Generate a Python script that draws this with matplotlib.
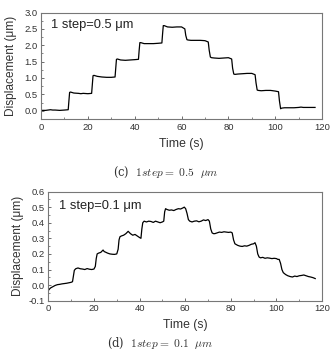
import numpy as np
import matplotlib.pyplot as plt
from matplotlib.ticker import MultipleLocator

# (c) 1 step = 0.5 um
t_c = [0, 2, 4, 5, 6, 8, 10, 11.6, 11.9, 12.2, 12.6, 14, 16, 17, 18, 20, 21.6, 21.9, 22.2, 22.6,
       24, 26, 28, 30, 31.6, 31.9, 32.2, 32.6, 34, 36, 38, 40, 41.6, 41.9, 42.2, 42.6, 44, 46, 48,
       50, 51.6, 51.9, 52.2, 52.6, 54, 56, 58, 60, 61.4, 61.8, 62.3, 62.8, 64, 66, 68, 70, 71.4,
       71.8, 72.3, 72.8, 74, 76, 78, 80, 81.4, 81.8, 82.3, 82.8, 84, 86, 88, 90, 91.4, 91.8, 92.3,
       92.8, 94, 96, 98, 100, 101.4, 101.8, 102.3, 102.8, 104, 106, 108, 110, 111, 112, 114, 116, 117]
d_c = [0.01, 0.01, 0.03, 0.02, 0.02, 0.01, 0.02, 0.03, 0.30, 0.56, 0.57, 0.54, 0.53, 0.52, 0.53, 0.52, 0.53, 0.80,
       1.07, 1.08, 1.05, 1.03, 1.02, 1.02, 1.03, 1.30, 1.57, 1.58, 1.55, 1.54, 1.55, 1.56, 1.57, 1.85,
       2.08, 2.08, 2.05, 2.05, 2.05, 2.06, 2.07, 2.35, 2.60, 2.60, 2.56, 2.55, 2.56, 2.56, 2.50, 2.30,
       2.17, 2.16, 2.15, 2.15, 2.15, 2.14, 2.10, 1.85, 1.64, 1.62, 1.61, 1.60, 1.61, 1.62, 1.58, 1.30,
       1.12, 1.11, 1.12, 1.13, 1.14, 1.14, 1.10, 0.85, 0.63, 0.62, 0.61, 0.62, 0.62, 0.60, 0.58, 0.30,
       0.06, 0.08, 0.09, 0.09, 0.09, 0.10, 0.11, 0.10, 0.10, 0.10, 0.10]

# (d) 1 step = 0.1 um
t_d = [0, 0.5, 1, 2, 3, 4, 5, 6, 7, 8, 9, 10,
       10.6, 11, 11.4, 12, 13, 14, 15, 16, 17, 18, 19, 20,
       20.6, 21, 21.4, 22, 23, 24, 24.5, 25, 26, 27, 28, 29, 30,
       30.6, 31, 31.4, 32, 33, 34, 35, 36, 37, 38, 39, 40,
       40.6, 41, 41.4, 42, 43, 44, 45, 46, 47, 48, 49, 50,
       50.6, 51, 51.4, 52, 53, 54, 55, 56, 57, 58, 59, 59.6,
       60.2, 60.8, 61.4, 62, 63, 64, 65, 66, 67, 68, 69, 70,
       70.6, 71.2, 71.8, 72.4, 73, 74, 75, 76, 77, 78, 79, 80,
       80.6, 81.2, 81.8, 82.4, 83, 84, 85, 86, 87, 88, 89, 90,
       90.6, 91.2, 91.8, 92.4, 93, 94, 95, 96, 97, 98, 99, 100,
       100.6, 101.2, 101.8, 102.4, 103, 104, 105, 106, 107, 108, 109, 110,
       111, 112, 113, 114, 115, 116, 117]
d_d = [-0.035, -0.025, -0.018, -0.010, -0.002, 0.003, 0.005, 0.008, 0.010, 0.012, 0.015, 0.018,
       0.022, 0.060, 0.095, 0.105, 0.110, 0.105, 0.103, 0.100, 0.106, 0.102, 0.100, 0.103,
       0.120, 0.170, 0.200, 0.205, 0.210, 0.225, 0.215, 0.212, 0.205, 0.200, 0.198, 0.197, 0.200,
       0.230, 0.290, 0.310, 0.315, 0.320, 0.330, 0.345, 0.330, 0.320, 0.325, 0.315, 0.305,
       0.300, 0.360, 0.400, 0.410, 0.405, 0.410, 0.408, 0.402, 0.410, 0.405, 0.400, 0.405,
       0.410, 0.470, 0.490, 0.485, 0.480, 0.482, 0.478, 0.485, 0.490, 0.488, 0.495, 0.500,
       0.490, 0.460, 0.420, 0.410, 0.405, 0.410, 0.412, 0.406, 0.410, 0.418, 0.414, 0.420,
       0.410, 0.360, 0.335, 0.330, 0.330, 0.335, 0.340, 0.338, 0.342, 0.340, 0.338, 0.340,
       0.335, 0.290, 0.265, 0.260, 0.255, 0.250, 0.248, 0.252, 0.250, 0.255, 0.262, 0.265,
       0.272, 0.250, 0.200, 0.180, 0.175, 0.178, 0.172, 0.175, 0.173, 0.170, 0.172, 0.170,
       0.165, 0.165, 0.140, 0.100, 0.080, 0.068, 0.060, 0.055, 0.052, 0.058, 0.055, 0.060,
       0.062, 0.065, 0.060, 0.055, 0.052, 0.048, 0.042]

plt.rcParams['font.family'] = ['Liberation Sans', 'DejaVu Sans']
plt.rcParams['mathtext.fontset'] = 'cm'

fig = plt.figure(figsize=(3.31, 3.58), dpi=100)
ax1 = fig.add_axes([0.124, 0.667, 0.849, 0.298])
ax2 = fig.add_axes([0.146, 0.160, 0.827, 0.305])


def style(ax, ymin, ymax, ystep, ypad):
    ax.set_xlim(0, 120)
    ax.set_ylim(ymin, ymax)
    ax.xaxis.set_major_locator(MultipleLocator(20))
    ax.xaxis.set_minor_locator(MultipleLocator(10))
    ax.yaxis.set_major_locator(MultipleLocator(ystep))
    ax.yaxis.set_minor_locator(MultipleLocator(ystep / 2))
    ax.tick_params(which='both', direction='in', labelsize=6.8, colors='#555555',
                   labelcolor='#333333', pad=2.5)
    ax.tick_params(which='major', length=2.5, width=0.6)
    ax.tick_params(which='minor', length=1.5, width=0.5)
    for s in ax.spines.values():
        s.set_color('#777777')
        s.set_linewidth(0.8)
    ax.set_xlabel('Time (s)', fontsize=8.8, color='#333333', labelpad=4.5)
    ax.set_ylabel('Displacement (μm)', fontsize=8.6, color='#333333', labelpad=ypad)


ax1.plot(t_c, d_c, color='black', lw=0.9)
style(ax1, -0.26, 3.0, 0.5, 5)
ax1.yaxis.set_major_formatter(lambda v, p: f'{v:.1f}')
ax1.text(0.035, 0.88, '1 step=0.5 μm', transform=ax1.transAxes, fontsize=9.3,
         va='center', color='#222222')

ax2.plot(t_d, d_d, color='black', lw=0.9)
style(ax2, -0.1, 0.6, 0.1, 3.5)
ax2.yaxis.set_major_formatter(lambda v, p: f'{v:.1f}')
ax2.text(0.04, 0.865, '1 step=0.1 μm', transform=ax2.transAxes, fontsize=9.3,
         va='center', color='#222222')

fig.text(0.50, 0.517, r'(c)  $1 step =\ 0.5\ \ \mu m$', ha='center', va='center',
         fontsize=8.3, family='DejaVu Serif', color='#333333')
fig.text(0.485, 0.042, r'(d)  $1 step =\ 0.1\ \ \mu m$', ha='center', va='center',
         fontsize=8.3, family='DejaVu Serif', color='#333333')

fig.savefig('out.png', dpi=100)
